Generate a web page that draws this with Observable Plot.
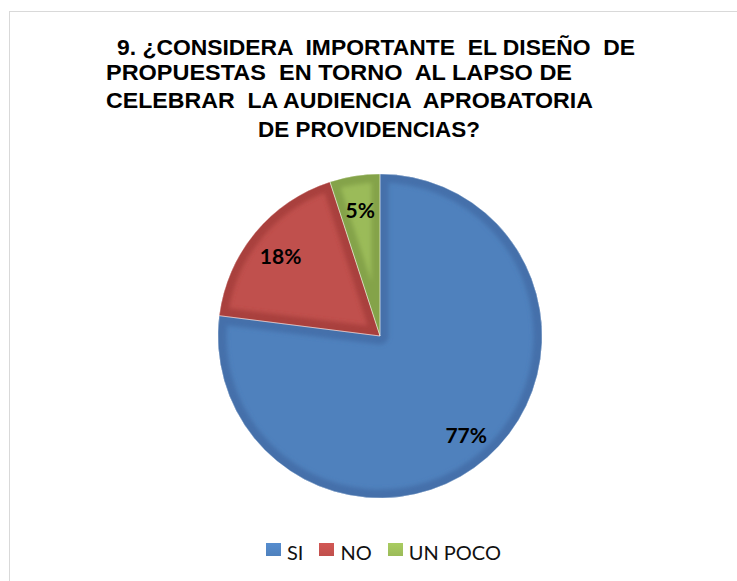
<!DOCTYPE html>
<html>
<head>
<meta charset="utf-8">
<script src="https://cdn.jsdelivr.net/npm/d3@7"></script>
<script src="https://cdn.jsdelivr.net/npm/@observablehq/plot@0.6"></script>
<style>
  html, body { margin: 0; padding: 0; background: #fff; }
  #chart { position: relative; width: 737px; height: 581px; overflow: hidden; }
  #frame { position: absolute; left: 9px; top: 11px; width: 780px; height: 620px;
           border: 1.5px solid #d9d9d9; box-sizing: border-box; }
  #title { position: absolute; left: 0; top: 0; }
  #pie { position: absolute; left: 0; top: 150px; }
  #legend { position: absolute; left: 266px; top: 540px; display: flex; align-items: center;
            font-family: Lato, "Open Sans", sans-serif; font-size: 20px; color: #111; }
  #legend .item { display: flex; align-items: center; margin-right: 16px; }
  #legend .sw { width: 15px; height: 13px; margin-right: 6px; position: relative; top: -3px; }
</style>
</head>
<body>
<div id="chart">
  <div id="frame"></div>
  <svg id="title" width="737" height="150"></svg>
  <div id="pie"></div>
  <div id="legend"></div>
</div>
<script>
// Survey answers for question 9 (percent of respondents)
const categories = ["SI", "NO", "UN POCO"];
const percents = [77, 18, 5];
const titleLines = [
  "9. ¿CONSIDERA  IMPORTANTE  EL DISEÑO  DE",
  "PROPUESTAS  EN TORNO  AL LAPSO DE",
  "CELEBRAR  LA AUDIENCIA  APROBATORIA",
  "DE PROVIDENCIAS?"
];

// Slice colours: body and the darker bevelled rim
const bodyColors = ["#4F81BD", "#C0504D", "#9BBB59"];
const rimColors = ["#4470AA", "#A9413C", "#84A34A"];

// Title lines: left x, baseline y, fitted width
const titleLayout = [[117, 55, 518], [106, 80, 466], [106, 108, 487], [258, 137, 222]];

const titleSvg = d3.select("#title");
titleLines.forEach((line, i) => {
  const [x, y, w] = titleLayout[i];
  titleSvg.append("text")
    .attr("x", x).attr("y", y)
    .attr("textLength", w).attr("lengthAdjust", "spacingAndGlyphs")
    .attr("xml:space", "preserve")
    .style("white-space", "pre")
    .attr("font-family", "'Liberation Sans', Arial, sans-serif")
    .attr("font-weight", "bold").attr("font-size", 22.5)
    .attr("fill", "#000")
    .text(line);
});

const rows = categories.map((c, i) => ({category: c, value: percents[i], i}));
const arcs = d3.pie().sort(null).value(d => d.value)(rows);
const labelRadius = 0.8;
const labels = arcs.map(a => {
  const mid = (a.startAngle + a.endAngle) / 2;
  return {x: labelRadius * Math.sin(mid), y: labelRadius * Math.cos(mid), text: a.data.value + "%"};
});

// Pie slices drawn with the plot's x/y scales (unit circle)
function pieSlices(index, scales, values, dimensions) {
  const cx = scales.x(0), cy = scales.y(0);
  const r = Math.abs(scales.x(1) - cx);
  const g = d3.create("svg:g");
  const defs = g.append("defs");
  defs.append("filter").attr("id", "rim-blur")
    .attr("x", "-20%").attr("y", "-20%").attr("width", "140%").attr("height", "140%")
    .append("feGaussianBlur").attr("stdDeviation", 2);
  const arc = d3.arc().innerRadius(0).outerRadius(r);
  arcs.forEach((a, i) => {
    const d = arc(a);
    const id = "slice-clip-" + i;
    defs.append("clipPath").attr("id", id)
      .append("path").attr("d", d).attr("transform", `translate(${cx},${cy})`);
    g.append("path").attr("d", d).attr("transform", `translate(${cx},${cy})`)
      .attr("fill", bodyColors[a.data.i]);
    g.append("g").attr("clip-path", `url(#${id})`)
      .append("path").attr("d", d).attr("transform", `translate(${cx},${cy})`)
      .attr("fill", "none").attr("stroke", rimColors[a.data.i])
      .attr("stroke-width", 17).attr("stroke-linejoin", "round")
      .attr("filter", "url(#rim-blur)");
  });
  arcs.forEach(a => {
    g.append("path").attr("d", arc(a)).attr("transform", `translate(${cx},${cy})`)
      .attr("fill", "none").attr("stroke", "#fff").attr("stroke-opacity", 0.45).attr("stroke-width", 0.8);
  });
  return g.node();
}

const plot = Plot.plot({
  width: 737,
  height: 360,
  marginLeft: 218,
  marginRight: 195,
  marginTop: 24,
  marginBottom: 12,
  x: {domain: [-1, 1], axis: null},
  y: {domain: [-1, 1], axis: null},
  marks: [
    pieSlices,
    Plot.text(labels, {
      x: "x", y: "y", text: "text",
      dy: 3,
      fill: "#000", fontWeight: "bold", fontSize: 21,
      fontFamily: "Lato, 'Open Sans', sans-serif"
    })
  ]
});
document.getElementById("pie").appendChild(plot);

// Legend
const legend = d3.select("#legend");
categories.forEach((c, i) => {
  const item = legend.append("div").attr("class", "item");
  item.append("div").attr("class", "sw")
    .style("background", `linear-gradient(${d3.color(bodyColors[i]).brighter(0.25)}, ${bodyColors[i]})`);
  item.append("span").text(c);
});
</script>
</body>
</html>
